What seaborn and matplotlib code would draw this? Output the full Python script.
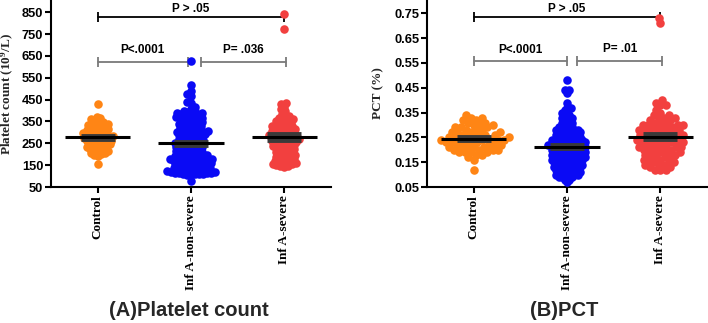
import numpy as np
import pandas as pd
import matplotlib
matplotlib.use("Agg")
import matplotlib.pyplot as plt
import seaborn as sns

# ---------------- data ----------------
groups = ["Control", "Inf A-non-severe", "Inf A-severe"]
colors = ["#FF8515", "#0A0AF5", "#F2403F"]

ctrl_plt = [430, 372, 365, 360, 352, 348, 345, 340, 338, 336, 332, 328,
            325, 322, 320, 316, 312, 310, 308, 305, 302, 300, 298, 295,
            292, 290, 287, 285, 284, 281, 278, 276, 275, 273, 270, 268,
            265, 262, 262, 258, 255, 252, 250, 248, 245, 241, 238, 236,
            234, 230, 226, 222, 222, 218, 214, 210, 205, 205, 201, 196,
            190, 157]

nonsev_plt = [625, 515, 490, 474, 468, 441, 436, 414, 409,
              398, 396, 393, 390, 388, 386, 384, 381, 379, 375, 372,
              370, 368, 366, 363, 361, 357, 355, 352, 348, 345, 341,
              338, 335, 333, 330, 327, 324, 320, 318, 315, 312,
              310, 307, 305, 302, 300, 298, 296, 294, 292, 290,
              288, 285, 282, 279, 277, 274, 271, 268, 266, 263,
              260, 258, 255, 253, 250, 248, 246, 244, 242, 240,
              238, 235, 233, 231, 228, 226, 224, 221, 219, 217,
              214, 212, 210, 207, 205, 203, 200, 198, 196, 194, 192, 190,
              188, 186, 184, 182, 180, 178, 176, 174, 172, 171, 170, 168,
              166, 164, 162, 160, 158, 157, 156, 154, 152, 150, 148, 146,
              144, 142,
              140, 138, 136, 135, 132, 131, 130, 128, 127, 124, 123, 122,
              120, 119, 116, 115, 114, 112, 111, 110, 109, 108, 107, 105,
              76]

sev_plt = [840, 775, 435, 428, 418, 405, 398, 385,
           376, 372, 366, 362, 358, 354, 350, 346, 342, 338, 335, 331,
           328, 326, 323, 320, 317, 314, 311, 308, 305, 302, 300, 297,
           294, 291, 289, 286, 284, 281,
           279, 276, 273, 270, 268, 265, 262, 259, 256, 254, 251, 249,
           246, 243, 240, 237, 234, 231,
           229, 226, 222, 219, 215, 212, 208, 205, 201, 198, 195, 192,
           188, 185, 182,
           179, 176, 172, 169, 166, 163, 160, 158, 156, 153, 150, 147,
           144, 141]

ctrl_pct = [0.34, 0.33, 0.33, 0.32, 0.32, 0.31, 0.31, 0.30, 0.30, 0.30,
            0.29, 0.29, 0.29, 0.28, 0.28, 0.28, 0.27, 0.27, 0.27, 0.27,
            0.26, 0.26, 0.26, 0.26, 0.25, 0.25, 0.25, 0.25, 0.25, 0.24,
            0.24, 0.24, 0.24, 0.24, 0.23, 0.23, 0.23, 0.23, 0.23, 0.22,
            0.22, 0.22, 0.22, 0.21, 0.21, 0.21, 0.21, 0.20, 0.20, 0.20,
            0.20, 0.19, 0.19, 0.19, 0.19, 0.18, 0.18, 0.17, 0.21, 0.24,
            0.16, 0.12]

nonsev_pct = [0.48, 0.44, 0.44, 0.43, 0.39, 0.37, 0.37, 0.36,
              0.35, 0.35, 0.34, 0.34, 0.33, 0.33, 0.33, 0.32, 0.32, 0.31,
              0.31, 0.31, 0.30, 0.30,
              0.29, 0.29, 0.29, 0.29, 0.28, 0.28, 0.28, 0.28, 0.28,
              0.27, 0.27, 0.27, 0.27, 0.27, 0.26, 0.26, 0.26, 0.26, 0.26,
              0.25, 0.25, 0.25, 0.25, 0.25,
              0.24, 0.24, 0.24, 0.24, 0.24, 0.24, 0.24,
              0.23, 0.23, 0.23, 0.23, 0.23, 0.23, 0.23,
              0.22, 0.22, 0.22, 0.22, 0.22, 0.22, 0.22, 0.22,
              0.21, 0.21, 0.21, 0.21, 0.21, 0.21, 0.21,
              0.20, 0.20, 0.20, 0.20, 0.20, 0.20, 0.20,
              0.19, 0.19, 0.19, 0.19, 0.19, 0.19, 0.19,
              0.18, 0.18, 0.18, 0.18, 0.18, 0.18, 0.18,
              0.17, 0.17, 0.17, 0.17, 0.17, 0.17, 0.17,
              0.16, 0.16, 0.16, 0.16, 0.16, 0.16, 0.16,
              0.15, 0.15, 0.15, 0.15, 0.15, 0.15,
              0.14, 0.14, 0.14, 0.14, 0.14, 0.14,
              0.13, 0.13, 0.13, 0.13, 0.13, 0.13,
              0.12, 0.12, 0.12, 0.12, 0.12,
              0.11, 0.11, 0.11, 0.11, 0.11,
              0.10, 0.10, 0.10, 0.10, 0.10,
              0.09, 0.09, 0.09, 0.08, 0.08, 0.07, 0.09]

sev_pct = [0.73, 0.71,
           0.40, 0.39, 0.38, 0.38, 0.36, 0.35,
           0.34, 0.34, 0.33, 0.33, 0.33, 0.32, 0.32, 0.31, 0.31, 0.31,
           0.30, 0.30, 0.30, 0.30,
           0.29, 0.29, 0.29, 0.29, 0.28, 0.28, 0.28, 0.28,
           0.27, 0.27, 0.27, 0.27, 0.26, 0.26, 0.26, 0.26,
           0.25, 0.25, 0.25, 0.25,
           0.24, 0.24, 0.24, 0.24, 0.23, 0.23, 0.23, 0.23,
           0.22, 0.22, 0.22, 0.22, 0.21, 0.21, 0.21, 0.21,
           0.20, 0.20, 0.20, 0.20,
           0.19, 0.19, 0.19, 0.18, 0.18, 0.18, 0.17, 0.17, 0.17,
           0.16, 0.16, 0.16, 0.15, 0.15, 0.15,
           0.14, 0.14, 0.14, 0.13, 0.13, 0.12, 0.12, 0.12]

plt_ticks = [50, 150, 250, 350, 450, 550, 650, 750, 850]
pct_ticks = [0.05, 0.15, 0.25, 0.35, 0.45, 0.55, 0.65, 0.75]

# brackets: (x1, x2, y, label, color, text offset pt)
plt_brackets = [(0, 2.0, 827, "P > .05", "black", 1.5),
                (0, 0.97, 623, "P<.0001", "#7a7a7a", 4.0),
                (1.11, 2.02, 623, "P= .036", "#7a7a7a", 4.5)]
pct_brackets = [(0, 2.0, 0.735, "P > .05", "black", 1.5),
                (0, 1.0, 0.557, "P<.0001", "#7a7a7a", 3.5),
                (1.11, 2.02, 0.557, "P= .01", "#7a7a7a", 4.5)]

# ---------------- style ----------------
sns.set_style("ticks")
plt.rcParams["font.family"] = ["Liberation Sans", "DejaVu Sans"]
plt.rcParams["mathtext.fontset"] = "custom"
plt.rcParams["mathtext.rm"] = "Liberation Serif:bold"
plt.rcParams["mathtext.bf"] = "Liberation Serif:bold"
plt.rcParams["mathtext.it"] = "Liberation Serif:bold"
plt.rcParams["mathtext.default"] = "bf"

W, H = 708, 323
fig = plt.figure(figsize=(W / 100, H / 100), dpi=100)
axA = fig.add_axes([51 / W, (H - 187) / H, 280 / W, 187 / H])
axB = fig.add_axes([427 / W, (H - 187) / H, 280 / W, 187 / H])

SHOW_S = 38


def panel(ax, values, ylim, ticks, fmt, ylabel, brackets, label_x,
          layout_sizes):
    df = pd.DataFrame({
        "group": np.repeat(groups, [len(v) for v in values]),
        "value": np.concatenate([np.asarray(v, float) for v in values]),
    })
    ax.set_xlim(-0.5, 2.5)
    ax.set_ylim(*ylim)
    swarm = []
    for i, g in enumerate(groups):
        before = len(ax.collections)
        sns.swarmplot(data=df[df["group"] == g], x="group", y="value",
                      order=groups, color=colors[i], size=layout_sizes[i],
                      linewidth=0, ax=ax, zorder=3)
        swarm += list(ax.collections[before:])
    ax.set_xlim(-0.5, 2.5)
    ax.set_ylim(*ylim)
    for i, v in enumerate(values):
        v = np.asarray(v, float)
        m = v.mean()
        se = v.std(ddof=1) / np.sqrt(len(v))
        ax.errorbar(i, m, yerr=se, fmt="none", ecolor="#3a3a3a",
                    elinewidth=3, capsize=12, capthick=3.5, zorder=4)
        ax.hlines(m, i - 0.35, i + 0.35, color="black", lw=2.2, zorder=5)
    for x1, x2, y, lab, c, off in brackets:
        ax.plot([x1, x2], [y, y], color=c, lw=1.3, marker="|",
                markersize=7.5, markeredgewidth=1.3, zorder=2,
                clip_on=False)
        ax.annotate(lab, ((x1 + x2) / 2, y), xytext=(0, off),
                    textcoords="offset points", ha="center", va="bottom",
                    fontsize=8.5, fontweight="bold", color="black")
    ax.set_yticks(ticks)
    ax.set_yticklabels([fmt(t) for t in ticks], fontsize=9.3,
                       fontweight="bold")
    ax.set_xticks(range(3))
    ax.set_xticklabels(groups, rotation=90, fontsize=9.5, fontweight="bold",
                       family="Liberation Serif", va="top", ha="center")
    ax.set_xlabel("")
    ax.set_ylabel(ylabel, fontsize=9.5, fontweight="bold",
                  family="Liberation Serif")
    ax.yaxis.label.set_verticalalignment("center")
    ax.yaxis.set_label_coords(label_x, 0.5)
    sns.despine(ax=ax)
    for s in ("left", "bottom"):
        ax.spines[s].set_linewidth(1.5)
        ax.spines[s].set_color("black")
    ax.tick_params(axis="y", length=4, width=1.5, pad=1.5, colors="black")
    ax.tick_params(axis="x", length=4, width=1.5, pad=2, colors="black")
    return swarm


swA = panel(axA, [ctrl_plt, nonsev_plt, sev_plt], (50, 906), plt_ticks,
            lambda t: f"{t:d}", r"Platelet count (10$^{9}$/L)", plt_brackets,
            (7.5 - 51) / 280, [2.7, 2.8, 2.8])
swB = panel(axB, [ctrl_pct, nonsev_pct, sev_pct], (0.05, 0.804), pct_ticks,
            lambda t: f"{t:.2f}", "PCT (%)", pct_brackets,
            (378 - 427) / 280, [4.0, 2.4, 3.7])

# compute swarm layout with small markers, then enlarge markers
fig.canvas.draw()
for coll in swA + swB:
    if "draw" in vars(coll):
        del coll.draw
    coll.set_sizes([SHOW_S])

fig.text(189 / W, 1 - 311 / H, "(A)Platelet count", ha="center",
         va="center", fontsize=14.5, fontweight="bold")
fig.text(564 / W, 1 - 311 / H, "(B)PCT", ha="center", va="center",
         fontsize=14.5, fontweight="bold")

fig.savefig("out.png", dpi=100)
